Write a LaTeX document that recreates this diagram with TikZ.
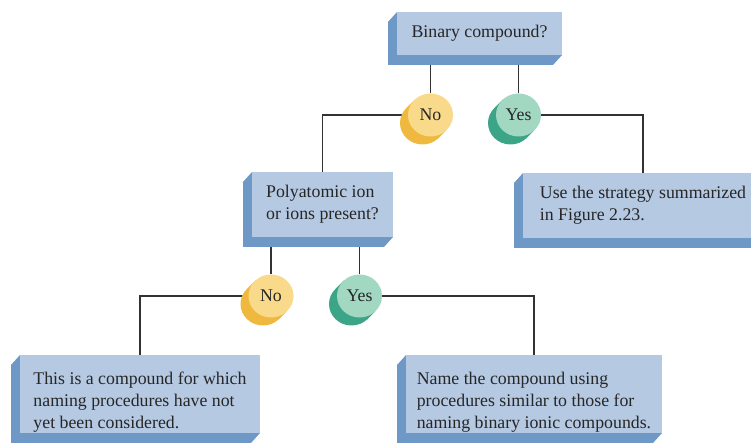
\documentclass[tikz,border=0pt]{standalone}
\usepackage{fontspec}
\setmainfont{Liberation Serif}
\usetikzlibrary{shapes.geometric,backgrounds}

\definecolor{boxlight}{RGB}{181,201,226}
\definecolor{boxdark}{RGB}{110,152,198}
\definecolor{yellight}{RGB}{249,218,138}
\definecolor{yeldark}{RGB}{239,184,62}
\definecolor{grnlight}{RGB}{162,215,194}
\definecolor{grndark}{RGB}{60,165,135}
\definecolor{linegray}{RGB}{50,50,50}

\newcommand{\lowstrut}{\rule{0pt}{29pt}}

\tikzset{
	qbox/.style={fill=boxlight, align=left, inner sep=0pt, outer sep=0pt, text=black!85},
	answer/.style={ellipse, minimum width=45pt, minimum height=43pt, inner sep=0pt, outer sep=0pt, text=black!85},
	link/.style={draw=linegray, line width=1.1pt}
}

\begin{document}
\begin{tikzpicture}[x=1pt,y=1pt,font=\fontsize{17.8}{21.7}\selectfont]
		\useasboundingbox (0,0) rectangle (751,446);
		
		\node[qbox, minimum width=165pt, minimum height=43pt] (bin) at (479.5,412.5) {Binary compound?};
		\node[answer, fill=yellight] (no1) at (430.5,331) {No};
		\node[answer, fill=grnlight] (yes1) at (518.5,331) {Yes};
		
		\node[qbox, minimum width=141pt, minimum height=65pt] (poly) at (322.5,241.5) {Polyatomic ion\\or ions present?};
		\node[qbox, minimum width=240pt, minimum height=65pt] (strat) at (643,240.5) {Use the strategy summarized\\in Figure 2.23.};
		\node[answer, fill=yellight] (no2) at (271,150) {No};
		\node[answer, fill=grnlight] (yes2) at (359.5,150) {Yes};
		
		\node[qbox, minimum width=240pt, minimum height=78pt] (comp) at (140,52) {\lowstrut This is a compound for which\\naming procedures have not\\yet been considered.};
		\node[qbox, minimum width=256pt, minimum height=78pt] (name) at (534,52) {\lowstrut Name the compound using\\procedures similar to those for\\naming binary ionic compounds.};
		
		\begin{scope}[on background layer]
			\draw[link] (no1) -- (no1 |- bin.south);
			\draw[link] (yes1) -- (yes1 |- bin.south);
			\draw[link] (no1) -| (poly);
			\draw[link] (yes1) -| (strat);
			\draw[link] (no2) -- (no2 |- poly.south);
			\draw[link] (yes2) -- (yes2 |- poly.south);
			\draw[link] (no2) -| (comp);
			\draw[link] (yes2) -| (name);
			
			\foreach \n in {bin,poly,strat,comp,name}
				\fill[boxdark] (\n.north west) -- ++(-9,-10) |- ([shift={(-9,-10)}]\n.south east) -- (\n.south east) -- cycle;
			\foreach \n/\c in {no1/yeldark,yes1/grndark,no2/yeldark,yes2/grndark}{
				\fill[\c] ([shift={(-8,-8)}]\n.center) ellipse (22.5 and 21.5);
				\fill[\c] (\n.135) -- ([shift={(-8,-8)}]\n.135) -- ([shift={(-8,-8)}]\n.-45) -- (\n.-45) -- cycle;
			}
		\end{scope}
	\end{tikzpicture}
\end{document}
